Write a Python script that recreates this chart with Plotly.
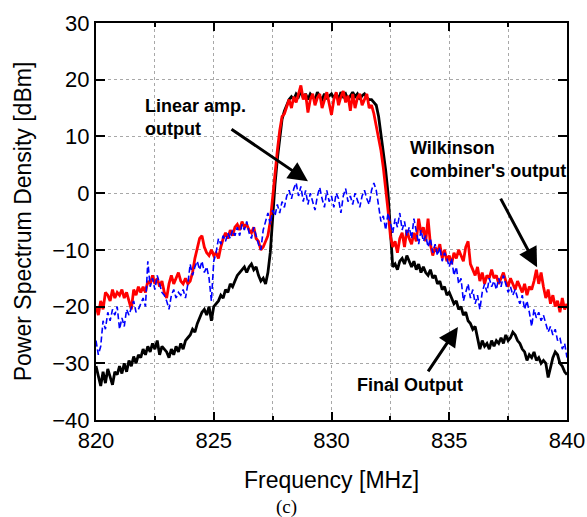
import numpy as np
import plotly.graph_objects as go

# Frequency grid (MHz), 0.1 MHz spacing from 820 to 840
freq = np.round(np.arange(820.0, 840.0001, 0.1), 1)

# Final Output (black)
final_output = [
    -30.5, -32.5, -34.0, -31.5, -33.5, -31.0, -32.5, -33.8, -31.5, -32.0,
    -30.5, -31.8, -30.0, -31.5, -29.5, -30.5, -28.8, -30.0, -28.5, -29.0,
    -27.5, -28.5, -27.0, -28.0, -26.5, -27.5, -26.0, -28.5, -27.0, -27.5,
    -28.0, -29.0, -27.5, -28.5, -27.0, -28.0, -26.5, -27.5, -26.0, -25.5,
    -25.0, -24.0, -24.5, -23.0, -22.0, -21.0, -20.5, -21.5, -20.0, -22.5,
    -20.0, -19.5, -19.0, -18.0, -18.5, -17.0, -17.5, -16.0, -16.5, -15.5,
    -14.5, -14.0, -13.5, -13.0, -14.0, -13.0, -12.5, -13.5, -13.0, -14.5,
    -15.5, -15.0, -16.0, -14.0, -10.5, -4.0, 1.5, 6.0, 10.0, 13.0,
    14.5, 15.5, 16.5, 17.0, 16.5, 17.5, 17.0, 18.0, 16.8, 17.5,
    16.5, 17.5, 17.0, 16.5, 17.8, 17.0, 16.5, 17.5, 16.8, 17.2,
    17.5, 16.8, 17.5, 16.5, 17.8, 17.0, 17.5, 16.5, 17.2, 17.8,
    17.0, 17.5, 16.5, 17.2, 17.5, 16.8, 16.5, 16.5, 16.0, 15.5,
    13.5, 10.5, 7.5, 4.0, 0.0, -7.0, -13.0, -12.5, -13.5, -12.0,
    -11.5, -12.5, -11.0, -12.0, -13.0, -12.0, -13.5, -12.5, -14.0, -13.0,
    -14.0, -14.5, -13.5, -15.0, -14.5, -16.0, -15.5, -17.0, -16.5, -18.0,
    -17.5, -18.5, -19.5, -19.0, -20.5, -20.0, -21.5, -21.0, -22.5, -23.0,
    -24.0, -23.5, -25.5, -27.5, -26.0, -27.0, -26.5, -27.5, -26.0, -27.0,
    -26.0, -26.5, -25.5, -26.5, -25.0, -26.0, -25.5, -24.5, -25.0, -26.0,
    -26.5, -27.5, -28.0, -29.5, -28.5, -29.0, -28.0, -29.5, -29.0, -30.0,
    -29.5, -30.0, -32.5, -30.5, -29.0, -28.0, -28.5, -30.0, -30.5, -31.5, -32.0,
]

# Wilkinson combiner's output (red)
wilkinson_output = [
    -20.0, -21.5, -19.0, -20.5, -17.5, -18.0, -19.0, -17.0, -18.5, -17.5,
    -18.0, -17.0, -18.5, -17.5, -19.0, -20.5, -17.0, -18.0, -16.5, -17.5,
    -16.5, -17.5, -15.5, -16.0, -14.5, -16.0, -15.0, -16.5, -15.5, -17.5,
    -18.5, -16.0, -14.5, -16.0, -15.0, -14.0, -15.5, -16.0, -15.0, -16.0,
    -15.5, -14.0, -11.5, -10.0, -8.0, -7.5, -9.5, -10.5, -11.0, -10.0,
    -11.0, -10.5, -11.5, -9.5, -8.0, -7.0, -8.0, -6.5, -7.5, -6.0,
    -5.5, -6.5, -5.0, -6.0, -5.5, -6.5, -7.0, -6.0, -8.0, -8.5,
    -10.0, -9.5, -8.5, -7.5, -5.0, -0.5, 4.0, 7.5, 11.0, 13.5,
    14.0, 15.5, 16.5, 15.0, 17.0, 16.0, 17.5, 19.0, 16.5, 17.5,
    14.2, 16.5, 17.5, 15.5, 16.8, 17.5, 15.0, 16.5, 17.8, 15.8,
    13.8, 16.5, 17.8, 15.5, 17.0, 18.0, 16.0, 17.2, 14.5, 17.5,
    15.0, 16.8, 17.5, 15.5, 16.5, 17.5, 15.0, 15.5, 14.0, 12.0,
    10.0, 7.5, 4.5, 1.0, -3.0, -7.5, -9.5, -8.5, -10.5, -8.0,
    -7.0, -9.5, -6.5, -8.0, -9.0, -7.0, -8.5, -4.5, -7.0, -6.0,
    -8.5, -4.5, -9.0, -11.0, -9.5, -10.5, -9.0, -11.5, -10.0, -12.0,
    -11.0, -12.5, -10.5, -11.5, -10.0, -11.0, -12.0, -9.5, -8.5, -12.5,
    -13.5, -14.5, -13.0, -15.5, -14.0, -16.0, -14.5, -15.0, -13.5, -15.0,
    -14.5, -16.0, -15.0, -14.0, -15.5, -16.5, -15.0, -16.0, -17.0, -15.5,
    -16.5, -17.5, -16.0, -18.0, -16.5, -17.0, -15.5, -13.5, -16.0, -14.0,
    -16.5, -18.5, -17.0, -19.5, -18.0, -20.0, -19.0, -21.0, -18.5, -20.5, -19.5,
]

# Linear amp. output (blue, dashed)
linear_amp_output = [
    -26.0, -28.5, -27.0, -22.5, -24.0, -21.0, -22.5, -20.5, -21.5, -20.0,
    -24.0, -22.0, -23.5, -20.5, -21.5, -20.0, -19.0, -21.0, -20.5, -19.5,
    -18.5, -20.0, -12.0, -16.5, -15.0, -17.0, -14.5, -16.0, -17.5, -18.0,
    -19.0, -20.5, -18.0, -17.0, -18.5, -17.5, -18.0, -17.0, -18.5, -16.0,
    -12.5, -14.5, -13.0, -12.0, -13.5, -12.0, -14.0, -13.0, -15.0, -19.0,
    -12.0, -10.5, -8.0, -9.0, -7.5, -8.5, -7.0, -8.0, -6.5, -7.5,
    -6.0, -7.5, -5.5, -6.5, -5.0, -7.0, -8.0, -6.0, -7.5, -9.0,
    -10.0, -6.5, -5.0, -3.5, -5.5, -3.0, -4.0, -2.0, -3.5, -1.5,
    -2.5, -0.5, 0.5, -1.0, 0.8, 1.8, -0.5, 1.2, -1.5, 0.5,
    -2.0, 0.0, -1.5, -3.0, -0.5, 1.0, -1.0, -2.5, 0.5, -1.5,
    -0.5, -2.5, 0.0, -1.0, -3.5, -0.5, 0.8, -1.5, -0.5, -2.0,
    0.0, -1.5, -2.5, -0.5, 0.5, -1.0, -2.0, 0.5, 1.8, 0.5,
    -2.0, -5.0, -4.0, -6.5, -3.5, -5.5, -7.0, -4.5, -6.0, -3.5,
    -6.5, -5.0, -7.5, -6.0, -8.0, -4.5, -7.0, -9.0, -6.5, -8.5,
    -7.5, -9.5, -8.0, -10.5, -9.0, -11.0, -9.5, -12.0, -10.5, -11.5,
    -13.0, -11.5, -14.5, -13.0, -16.0, -15.0, -19.0, -17.5, -16.0, -18.5,
    -17.0, -19.5, -18.0, -20.5, -17.5, -16.0, -17.5, -15.0, -16.5, -15.5,
    -17.0, -15.0, -16.5, -14.5, -16.0, -17.5, -16.5, -18.0, -17.0, -18.5,
    -19.5, -18.0, -20.5, -19.0, -21.0, -23.5, -20.5, -22.0, -21.0, -22.5,
    -21.5, -23.0, -24.5, -23.5, -25.0, -24.0, -26.0, -25.5, -27.5, -26.5, -29.0,
]

x_ticks = [820, 825, 830, 835, 840]
y_ticks = [-40, -30, -20, -10, 0, 10, 20, 30]

fig = go.Figure()
fig.add_trace(go.Scatter(x=freq, y=final_output, mode="lines",
                         line=dict(color="black", width=2.8), name="Final Output"))
fig.add_trace(go.Scatter(x=freq, y=wilkinson_output, mode="lines",
                         line=dict(color="#ff0000", width=2.8), name="Wilkinson combiner's output"))
fig.add_trace(go.Scatter(x=freq, y=linear_amp_output, mode="lines",
                         line=dict(color="#0000ff", width=1.6, dash="6px,3px"),
                         name="Linear amp. output"))

font_main = "Liberation Sans, Arial, sans-serif"
grid_col = "#a8a8a8"

fig.update_layout(
    width=587, height=517,
    margin=dict(l=96, r=20, t=23, b=97),
    paper_bgcolor="white", plot_bgcolor="white",
    showlegend=False,
    font=dict(family=font_main, color="black"),
    xaxis=dict(
        range=[820, 840], tickvals=x_ticks, ticks="inside", ticklen=8, tickwidth=1.5,
        tickcolor="black", showline=True, linecolor="black", linewidth=2, mirror="ticks",
        showgrid=True, gridcolor=grid_col, griddash="dot", gridwidth=1, zeroline=False,
        tickfont=dict(size=22, family=font_main), automargin=False,
        minor=dict(dtick=2.5, tick0=820, showgrid=True, gridcolor=grid_col, griddash="dot",
                   gridwidth=1, ticks="inside", ticklen=4, tickcolor="black"),
        title=dict(text="Frequency [MHz]", font=dict(size=23, family=font_main), standoff=19),
    ),
    yaxis=dict(
        range=[-40, 30], tickvals=y_ticks, ticks="inside", ticklen=9, tickwidth=1.5,
        tickcolor="black", showline=True, linecolor="black", linewidth=2, mirror="ticks",
        showgrid=True, gridcolor=grid_col, griddash="dot", gridwidth=1, zeroline=False,
        tickfont=dict(size=22, family=font_main), automargin=False,
        title=dict(text="Power Spectrum Density [dBm]", font=dict(size=23, family=font_main),
                   standoff=14),
    ),
)

label_font = dict(family=font_main, size=18, color="black")
annots = [
    dict(x=822.0, y=13.4, text="<b>Linear amp.<br>output</b>", showarrow=False,
         xanchor="left", yanchor="middle", align="left", font=label_font),
    dict(x=833.25, y=5.9, text="<b>Wilkinson<br>combiner's output</b>", showarrow=False,
         xanchor="left", yanchor="middle", align="left", font=label_font),
    dict(x=833.33, y=-33.8, text="<b>Final Output</b>", showarrow=False,
         xanchor="center", yanchor="middle", font=label_font),
    # arrows
    dict(x=829.0, y=2.1, ax=825.69, ay=11.46, axref="x", ayref="y", text="",
         showarrow=True, arrowhead=2, arrowsize=1.3, arrowwidth=3, arrowcolor="black"),
    dict(x=838.73, y=-13.05, ax=837.15, ay=-0.7, axref="x", ayref="y", text="",
         showarrow=True, arrowhead=2, arrowsize=1.3, arrowwidth=3, arrowcolor="black"),
    dict(x=835.37, y=-23.6, ax=834.06, ay=-31.7, axref="x", ayref="y", text="",
         showarrow=True, arrowhead=2, arrowsize=1.3, arrowwidth=3, arrowcolor="black"),
    dict(x=0.4055, y=-0.22, xref="paper", yref="paper", text="(c)", showarrow=False,
         xanchor="center", yanchor="middle",
         font=dict(family="Liberation Serif, Times New Roman, serif", size=19, color="black")),
]
fig.update_layout(annotations=annots)

fig.write_html("out.html", config={"displayModeBar": False},
               post_script="document.body.style.margin='0';document.body.style.overflow='hidden';")
